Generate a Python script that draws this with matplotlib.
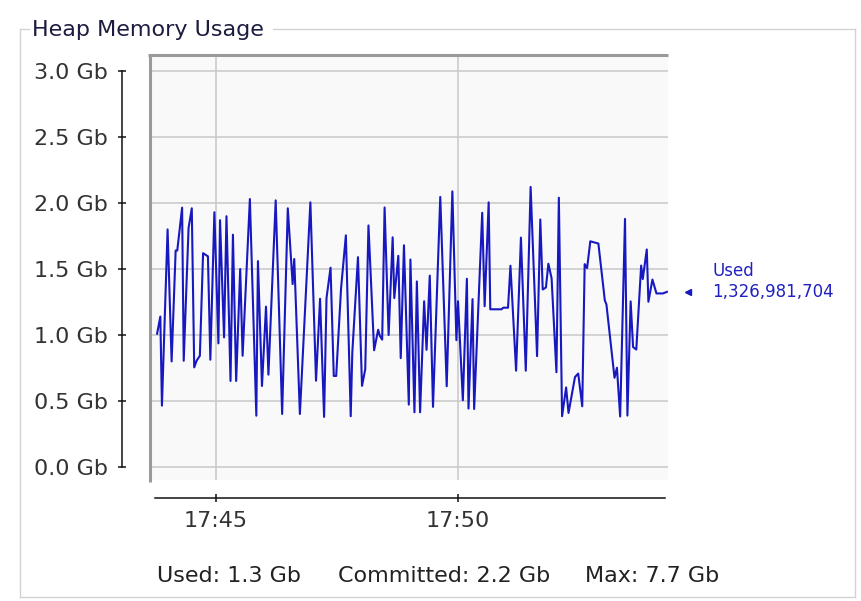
import matplotlib
matplotlib.use("Agg")
import matplotlib.pyplot as plt
import matplotlib.dates as mdates
import matplotlib.transforms as mtransforms
from matplotlib.lines import Line2D
import pandas as pd

# sample times, seconds after 17:43:00
t_sec = [
    47, 51, 53, 60, 65, 70, 72, 78, 80, 86, 90, 93, 96, 100, 104, 110, 113, 118,
    123, 125, 130, 133, 138, 141, 145, 150, 153, 162, 170, 172, 177, 182, 185,
    194, 202, 209, 215, 217, 224, 237, 244, 249, 254, 257, 262, 266, 269, 275,
    281, 287, 289, 296, 301, 305, 309, 316, 321, 323, 326, 329, 334, 339, 341,
    346, 349, 353, 359, 361, 366, 369, 373, 378, 381, 385, 389, 398, 406, 413,
    418, 420, 426, 431, 433, 438, 440, 450, 453, 458, 460, 474, 476, 482, 485,
    492, 498, 504, 510, 518, 522, 525, 529, 532, 536, 542, 545, 549, 554, 557,
    565, 569, 574, 577, 580, 584, 594, 602, 604, 614, 617, 621, 627, 630, 634,
    637, 641, 647, 649, 654, 656, 661, 666, 674, 679,
]
# heap used, Gb
used_gb = [
    1.01, 1.14, 0.465, 1.80, 0.80, 1.64, 1.64, 1.965, 0.805, 1.81, 1.96, 0.755,
    0.806, 0.843, 1.62, 1.596, 0.813, 1.93, 0.937, 1.87, 0.982, 1.90, 0.652,
    1.76, 0.652, 1.50, 0.843, 2.03, 0.389, 1.56, 0.614, 1.215, 0.70, 2.02,
    0.402, 1.96, 1.386, 1.576, 0.402, 2.005, 0.654, 1.275, 0.38, 1.28, 1.51,
    0.69, 0.69, 1.35, 1.755, 0.385, 0.87, 1.59, 0.615, 0.74, 1.83, 0.885, 1.04,
    0.995, 0.965, 1.966, 1.0, 1.74, 1.28, 1.60, 0.825, 1.68, 0.473, 1.572,
    0.415, 1.406, 0.415, 1.256, 0.888, 1.45, 0.456, 2.046, 0.612, 2.088, 0.961,
    1.256, 0.506, 1.426, 0.443, 1.272, 0.44, 1.926, 1.218, 2.005, 1.195, 1.195,
    1.207, 1.207, 1.525, 0.73, 1.738, 0.73, 2.122, 0.84, 1.875, 1.345, 1.36,
    1.54, 1.43, 0.718, 2.04, 0.385, 0.603, 0.41, 0.682, 0.708, 0.46, 1.537,
    1.507, 1.71, 1.693, 1.262, 1.231, 0.676, 0.752, 0.383, 1.88, 0.39, 1.255,
    0.909, 0.89, 1.526, 1.424, 1.648, 1.252, 1.42, 1.315, 1.315, 1.327,
]
used_bytes = 1326981704
committed_gb = 2.2
max_gb = 7.7
y_ticks = [0.0, 0.5, 1.0, 1.5, 2.0, 2.5, 3.0]

W, H = 861, 601
start = pd.Timestamp("2024-01-01 17:43:00")
times = start + pd.to_timedelta(t_sec, unit="s")

plt.rcParams["font.family"] = ["DejaVu Sans"]
fig = plt.figure(figsize=(W / 100, H / 100), dpi=100)


def fx(px):
    return px / W


def fy(py):
    return (H - py) / H


ax = fig.add_axes([fx(150), fy(480), fx(668) - fx(150), fy(55) - fy(480)])
ax.set_facecolor("#f9f9f9")

ax.plot(times, used_gb, color="#1818c0", lw=1.5, zorder=3)

ax.set_ylim(-0.098, 3.121)
ax.set_xlim(start + pd.Timedelta(seconds=38.2), start + pd.Timedelta(seconds=680.3))

ax.set_yticks(y_ticks)
ax.set_yticklabels([f"{v:.1f} Gb" for v in y_ticks])
ax.xaxis.set_major_locator(mdates.MinuteLocator(byminute=range(0, 60, 5)))
ax.xaxis.set_major_formatter(mdates.DateFormatter("%H:%M"))

ax.grid(True, color="#c8c8c8", lw=1.1)
ax.set_axisbelow(True)

for side in ["top", "right"]:
    ax.spines[side].set_visible(False)
ax.spines["left"].set_position(("outward", 20))
ax.spines["left"].set_bounds(0, 3)
ax.spines["bottom"].set_position(("outward", 13))
ax.spines["bottom"].set_bounds(
    mdates.date2num(start + pd.Timedelta(seconds=44)),
    mdates.date2num(start + pd.Timedelta(seconds=677)),
)
for side in ["left", "bottom"]:
    ax.spines[side].set_color("#111111")
    ax.spines[side].set_linewidth(1.1)

ax.tick_params(axis="both", direction="inout", length=6, width=1.1,
               color="#111111", labelsize=16, labelcolor="#333333")
ax.tick_params(axis="y", pad=7)
ax.tick_params(axis="x", pad=6)

# sunken frame of the plot area
ax.plot([0, 0], [1, -0.005], transform=ax.transAxes, color="#9a9a9a",
        lw=2.2, clip_on=False, solid_capstyle="butt")
ax.plot([-0.003, 1], [1, 1], transform=ax.transAxes, color="#9a9a9a",
        lw=2.2, clip_on=False, solid_capstyle="butt")

# current value marker and label
blend = mtransforms.blended_transform_factory(ax.transAxes, ax.transData)
ax.plot([1.0386], [used_gb[-1]], marker="<", ms=5, color="#1818c0",
        transform=blend, clip_on=False)
ax.text(1.085, used_gb[-1], f"{used_bytes:,}", transform=blend, va="center",
        ha="left", fontsize=12, color="#2020c0")
ax.annotate("Used", xy=(1.085, used_gb[-1]), xycoords=blend, xytext=(0, 15),
            textcoords="offset points", va="center", ha="left",
            fontsize=12, color="#2020c0")

# group box
box = "#d3d3d3"
segs = [
    ([20, 20], [29, 597]),
    ([20, 855], [597, 597]),
    ([855, 855], [29, 597]),
    ([20, 29], [29, 29]),
    ([273, 855], [29, 29]),
]
for xs, ys in segs:
    fig.add_artist(Line2D([fx(x) for x in xs], [fy(y) for y in ys],
                          color=box, lw=1.0, transform=fig.transFigure))
fig.text(fx(32), fy(30), "Heap Memory Usage", fontsize=16, color="#1c1c40",
         va="center", ha="left")

# summary line
fig.text(fx(157), fy(576), f"Used: {used_bytes / 1e9:.1f} Gb", fontsize=16,
         color="#222222", va="center", ha="left")
fig.text(fx(338), fy(576), f"Committed: {committed_gb:.1f} Gb", fontsize=16,
         color="#222222", va="center", ha="left")
fig.text(fx(585), fy(576), f"Max: {max_gb:.1f} Gb", fontsize=16,
         color="#222222", va="center", ha="left")

fig.savefig("out.png", dpi=100)
